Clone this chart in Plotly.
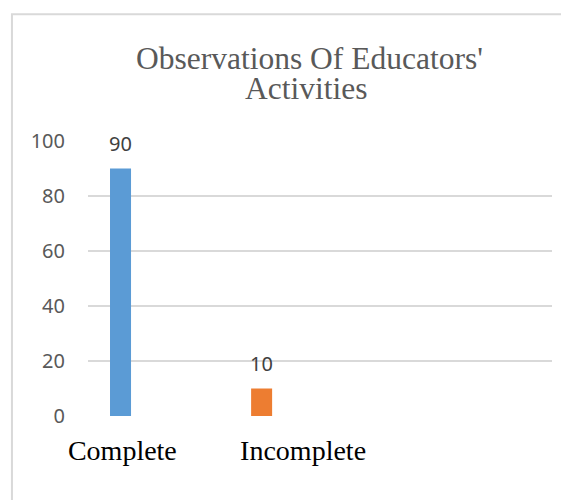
import plotly.graph_objects as go

# ---- data ----
categories = ["Complete", "Incomplete"]
values = [90, 10]
bar_colors = ["#5B9BD5", "#ED7D31"]
y_ticks = [0, 20, 40, 60, 80, 100]
title_line1 = "Observations Of Educators'"
title_line2 = "Activities"

# the page body adds an 8px margin; compensate
OFF = 8
W, H = 569 - OFF, 500 - OFF
L, R, T, B = 88 - OFF, 551.7 - OFF, 140.7 - OFF, 415.7 - OFF  # plot area in pixels
pw, ph = R - L, B - T

xpos = list(range(len(categories)))
unit = 141.0
x0 = -(120.5 - OFF - L) / unit
x1 = x0 + pw / unit
label_shift = [0.013, 0.294]

fig = go.Figure()
fig.add_trace(go.Bar(
    x=xpos, y=values, width=21 / unit,
    marker=dict(color=bar_colors, line=dict(width=0)),
    hoverinfo="skip", showlegend=False,
))

annotations = []
for xi, v in zip(xpos, values):
    annotations.append(dict(
        x=xi, y=v, xref="x", yref="y", text=str(v), showarrow=False,
        yanchor="middle", yshift=25,
        font=dict(family="Noto Sans", size=20, color="#404040"),
    ))

def px_to_paper_x(px):
    return (px - OFF - L) / pw

def px_to_paper_y(py):
    return (B - (py - OFF)) / ph

annotations.append(dict(
    x=px_to_paper_x(309.5), y=px_to_paper_y(58), xref="paper", yref="paper",
    text=title_line1, showarrow=False, xanchor="center", yanchor="middle",
    font=dict(family="Liberation Serif", size=31.5, color="#595959"),
))
annotations.append(dict(
    x=px_to_paper_x(305.7), y=px_to_paper_y(88.5), xref="paper", yref="paper",
    text=title_line2, showarrow=False, xanchor="center", yanchor="middle",
    font=dict(family="Liberation Serif", size=31.5, color="#595959"),
))

shapes = [dict(
    type="rect", xref="paper", yref="paper",
    x0=px_to_paper_x(12), x1=px_to_paper_x(580),
    y0=px_to_paper_y(510), y1=px_to_paper_y(14),
    line=dict(color="#d9d9d9", width=2), fillcolor="rgba(0,0,0,0)", layer="below",
)]

fig.update_layout(
    width=W, height=H,
    margin=dict(l=L, r=W - R, t=T, b=H - B, pad=0),
    paper_bgcolor="white", plot_bgcolor="white",
    annotations=annotations, shapes=shapes,
    xaxis=dict(
        range=[x0, x1], tickvals=[p + s for p, s in zip(xpos, label_shift)],
        ticktext=categories, showgrid=False, zeroline=False, showline=False,
        ticks="", ticklabelstandoff=15,
        tickfont=dict(family="Liberation Serif", size=28, color="#000000"),
        fixedrange=True,
    ),
    yaxis=dict(
        range=[0, 100], tickvals=y_ticks, showgrid=True, gridcolor="#d9d9d9",
        gridwidth=1.6, zeroline=False, showline=False, ticks="",
        ticklabelstandoff=22,
        tickfont=dict(family="Noto Sans", size=20, color="#595959"),
        fixedrange=True,
    ),
)

fig.write_html("out.html")
